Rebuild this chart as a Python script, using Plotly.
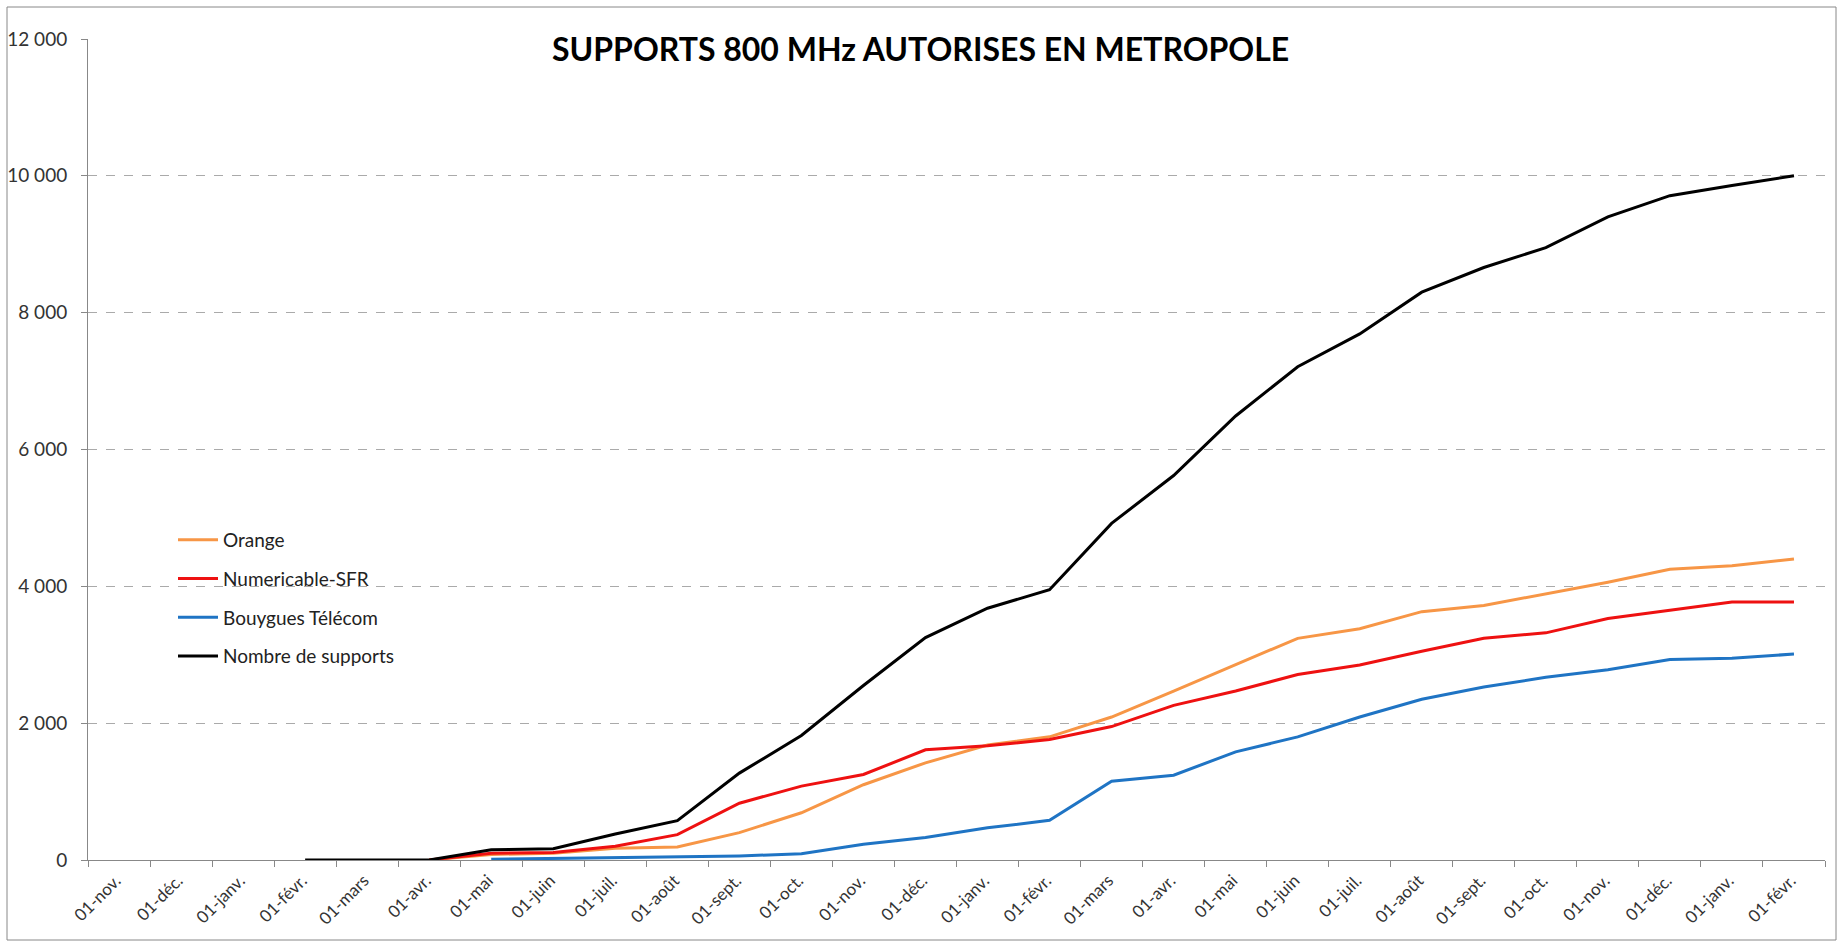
import plotly.graph_objects as go

months = ["01-nov.", "01-déc.", "01-janv.", "01-févr.", "01-mars", "01-avr.", "01-mai", "01-juin",
          "01-juil.", "01-août", "01-sept.", "01-oct.", "01-nov.", "01-déc.", "01-janv.", "01-févr.",
          "01-mars", "01-avr.", "01-mai", "01-juin", "01-juil.", "01-août", "01-sept.", "01-oct.",
          "01-nov.", "01-déc.", "01-janv.", "01-févr."]

# month index (0 = first 01-nov.) where each series starts
start_total = 3
start_orange = 5
start_sfr = 5
start_bouygues = 6

total = [0, 0, 0, 150, 165, 380, 575, 1270, 1820, 2550, 3250, 3680, 3950, 4920, 5620, 6490,
         7210, 7690, 8300, 8660, 8950, 9400, 9710, 9860, 10000]
orange = [0, 80, 100, 170, 190, 400, 690, 1100, 1420, 1680, 1800, 2090, 2470, 2860, 3240, 3380,
          3630, 3720, 3890, 4060, 4250, 4300, 4400]
sfr = [0, 100, 110, 200, 370, 830, 1080, 1250, 1610, 1670, 1760, 1950, 2260, 2470, 2710, 2850,
       3050, 3240, 3320, 3530, 3650, 3770, 3770]
bouygues = [10, 20, 30, 50, 60, 90, 230, 330, 470, 580, 1150, 1240, 1580, 1800, 2090, 2350,
            2530, 2670, 2780, 2930, 2950, 3010]

y_ticks = [0, 2000, 4000, 6000, 8000, 10000, 12000]
y_labels = ["0", "2 000", "4 000", "6 000", "8 000", "10 000", "12 000"]


def xs(start, vals):
    return [start + i + 0.5 for i in range(len(vals))]


FONT = "Lato, 'Open Sans', sans-serif"
series = [
    ("Orange", start_orange, orange, "#F79646"),
    ("Numericable-SFR", start_sfr, sfr, "#EE1111"),
    ("Bouygues Télécom", start_bouygues, bouygues, "#1F74C4"),
    ("Nombre de supports", start_total, total, "#000000"),
]

fig = go.Figure()
for name, st, vals, col in series:
    fig.add_trace(go.Scatter(x=xs(st, vals), y=vals, mode="lines", name=name,
                             legendgroup=name,
                             line=dict(color=col, width=3)))

L, R, T, B = 88, 13, 39, 82
W, H = 1838, 942
pw, ph = W - L - R, H - T - B

fig.update_layout(
    width=W, height=H,
    margin=dict(l=L, r=R, t=T, b=B, autoexpand=False),
    paper_bgcolor="white", plot_bgcolor="white",
    font=dict(family=FONT, size=16, color="#333333"),
    showlegend=True,
    legend=dict(x=(173 - L) / pw, y=(H - B - 521) / ph, xanchor="left", yanchor="top",
                bgcolor="rgba(0,0,0,0)", font=dict(size=19, color="#222222"),
                tracegroupgap=11, itemwidth=40),
    annotations=[dict(text="<b>SUPPORTS 800 MHz AUTORISES EN METROPOLE</b>",
                      x=(920 - L) / pw, y=(H - B - 49) / ph, xref="paper", yref="paper",
                      xanchor="center", yanchor="middle", showarrow=False,
                      bgcolor="white", borderpad=2,
                      font=dict(family=FONT, size=32, color="#000000"))],
    shapes=[dict(type="rect", xref="paper", yref="paper",
                 x0=(7 - L) / pw, x1=(1836 - L) / pw,
                 y0=(H - B - 940) / ph, y1=(H - B - 7) / ph,
                 line=dict(color="#888888", width=1), layer="below")],
)

fig.update_xaxes(
    range=[0, 28], tickmode="array", tickvals=[i + 0.45 for i in range(28)],
    ticktext=months, tickangle=-45, ticks="", showgrid=False,
    showline=True, linecolor="#888888", linewidth=1, automargin=False,
    tickfont=dict(size=17, color="#333333"), ticklabelstandoff=3,
    minor=dict(tickmode="linear", tick0=0, dtick=1, ticks="outside", ticklen=6,
               tickcolor="#888888", showgrid=False),
    zeroline=False,
)
fig.update_yaxes(
    range=[0, 12000], tickmode="array", tickvals=y_ticks, ticktext=y_labels,
    ticks="outside", ticklen=6, tickcolor="#888888", ticklabelstandoff=10,
    showgrid=True, gridcolor="#AAAAAA", griddash="dash", gridwidth=1,
    showline=True, linecolor="#888888", linewidth=1, zeroline=False, automargin=False,
    tickfont=dict(size=19, color="#333333"),
)

fig.write_html("out.html", config={"displayModeBar": False},
               post_script="document.body.style.margin='0';document.body.style.padding='0';")
